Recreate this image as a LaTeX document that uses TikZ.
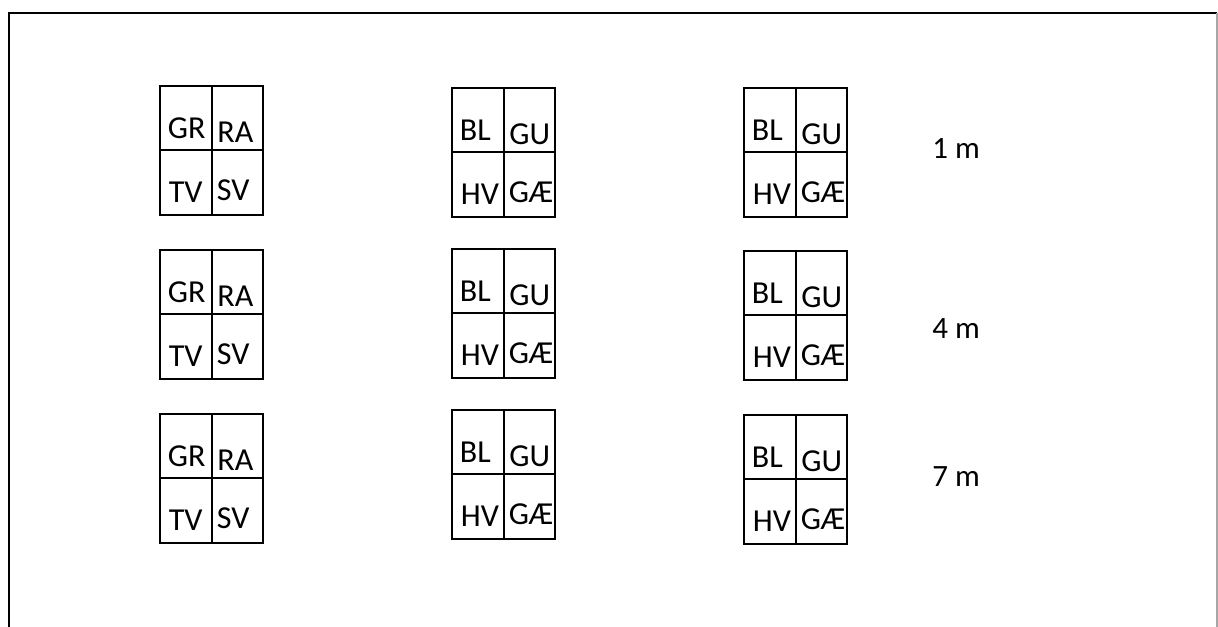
\documentclass[tikz,border=0pt]{standalone}
\usepackage{fontspec}
\setmainfont{Carlito}
\newcommand\quadbox[7]{%
  \begin{scope}[shift={(#1,#2)}]
    \draw[boxline] (0,0) rectangle (103,129);
    \draw[boxline] (0,64) -- (103,64);
    \draw[boxline] (52,0) -- (52,129);
    \node[lab] (#3-tl) at (7.5,52.5) {#4};
    \node[lab] (#3-tr) at (57,56.5) {#5};
    \node[lab] (#3-bl) at (8.5,116.5) {#6};
    \node[lab] (#3-br) at (56.5,114) {#7};
  \end{scope}}
\begin{document}
\begin{tikzpicture}[x=0.5pt,y=-0.5pt,
  boxline/.style={line width=0.9pt,black},
  lab/.style={anchor=base west,inner sep=0pt,font=\fontsize{16pt}{19pt}\selectfont},
  dist/.style={anchor=base west,inner sep=0pt,font=\fontsize{15.5pt}{19pt}\selectfont}]
\useasboundingbox (0,0) rectangle (1218,626);
\begin{scope}
\clip (0,0) rectangle (1218,626);
\draw[line width=1pt] (9,640) -- (9,13) -- (1217,13);
\draw[line width=0.6pt,gray!70] (1217,13) -- (1217,640);
\end{scope}
% row 1
\quadbox{160}{86}{a1}{GR}{RA}{TV}{SV}
\quadbox{452}{88}{b1}{BL}{GU}{HV}{GÆ}
\quadbox{744}{88}{c1}{BL}{GU}{HV}{GÆ}
% row 2
\quadbox{160}{250}{a2}{GR}{RA}{TV}{SV}
\quadbox{452}{249}{b2}{BL}{GU}{HV}{GÆ}
\quadbox{744}{251}{c2}{BL}{GU}{HV}{GÆ}
% row 3
\quadbox{160}{414}{a3}{GR}{RA}{TV}{SV}
\quadbox{452}{410}{b3}{BL}{GU}{HV}{GÆ}
\quadbox{744}{415}{c3}{BL}{GU}{HV}{GÆ}
% distances
\node[dist] (d1) at (932,158) {1 m};
\node[dist] (d4) at (932,338) {4 m};
\node[dist] (d7) at (932,486) {7 m};
\end{tikzpicture}
\end{document}
